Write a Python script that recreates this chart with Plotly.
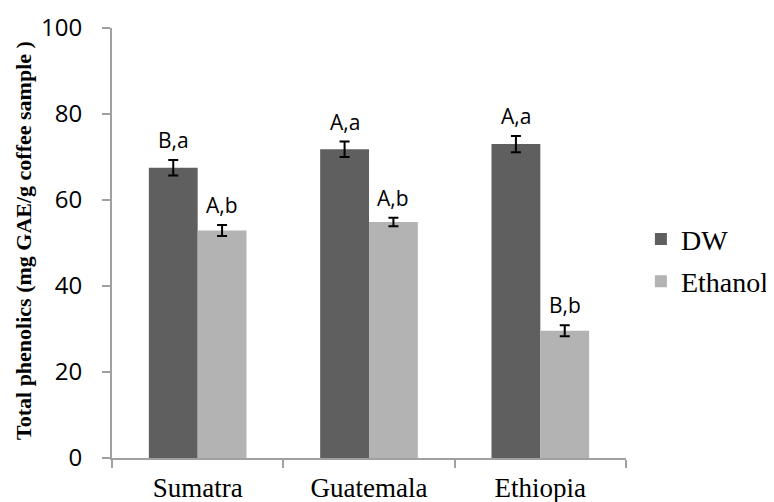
import plotly.graph_objects as go

categories = ["Sumatra", "Guatemala", "Ethiopia"]
dw_values = [67.5, 71.8, 73.0]
dw_errors = [1.8, 1.8, 1.9]
eth_values = [52.9, 54.9, 29.6]
eth_errors = [1.3, 1.0, 1.3]
dw_labels = ["B,a", "A,a", "A,a"]
eth_labels = ["A,b", "A,b", "B,b"]

bargap = 0.43
half = (1 - bargap) / 4.0

fig = go.Figure()
fig.add_trace(go.Bar(
    x=categories, y=dw_values, name="DW", legendgroup="dw",
    marker=dict(color="#5f5f5f", line=dict(width=0)),
    error_y=dict(type="data", array=dw_errors, color="black", thickness=2, width=5),
))
fig.add_trace(go.Bar(
    x=categories, y=eth_values, name="Ethanol", legendgroup="eth",
    marker=dict(color="#b3b3b3", line=dict(width=0)),
    error_y=dict(type="data", array=eth_errors, color="black", thickness=2, width=5),
))

for i, (v, e, t) in enumerate(zip(dw_values, dw_errors, dw_labels)):
    fig.add_annotation(x=i - half, y=v + e, text=t, showarrow=False,
                       yanchor="bottom", yshift=4,
                       font=dict(family="Open Sans", size=21, color="black"))
for i, (v, e, t) in enumerate(zip(eth_values, eth_errors, eth_labels)):
    fig.add_annotation(x=i + half, y=v + e, text=t, showarrow=False,
                       yanchor="bottom", yshift=4,
                       font=dict(family="Open Sans", size=21, color="black"))

# y-axis title as rotated annotation
fig.add_annotation(x=-0.171, y=0.505, xref="paper", yref="paper",
                   text="<b>Total phenolics (mg GAE/g coffee sample )</b>",
                   textangle=-90, showarrow=False, xanchor="center", yanchor="middle",
                   font=dict(family="Liberation Serif", size=22, color="black"))

fig.update_layout(
    width=766, height=494,
    margin=dict(l=104, r=148, t=20, b=44, autoexpand=False),
    paper_bgcolor="white", plot_bgcolor="white",
    barmode="group", bargap=bargap, bargroupgap=0,
    legend=dict(x=1.029, y=0.46, xanchor="left", yanchor="middle",
                font=dict(family="Liberation Serif", size=28, color="black"),
                tracegroupgap=3, itemwidth=30),
    xaxis=dict(
        automargin=False,
        showline=True, linecolor="#a0a0a0", linewidth=2,
        ticks="outside", tickson="boundaries", ticklen=8, tickcolor="#a0a0a0", tickwidth=2,
        tickfont=dict(family="Liberation Serif", size=27, color="black"),
        ticklabelstandoff=5,
    ),
    yaxis=dict(
        automargin=False,
        range=[0, 100], dtick=20, showgrid=False, zeroline=False,
        showline=True, linecolor="#a0a0a0", linewidth=2,
        ticks="outside", ticklen=8, tickcolor="#a0a0a0", tickwidth=2,
        tickfont=dict(family="Open Sans", size=24, color="black"),
        ticklabelstandoff=15,
    ),
)

fig.write_html("out.html")
